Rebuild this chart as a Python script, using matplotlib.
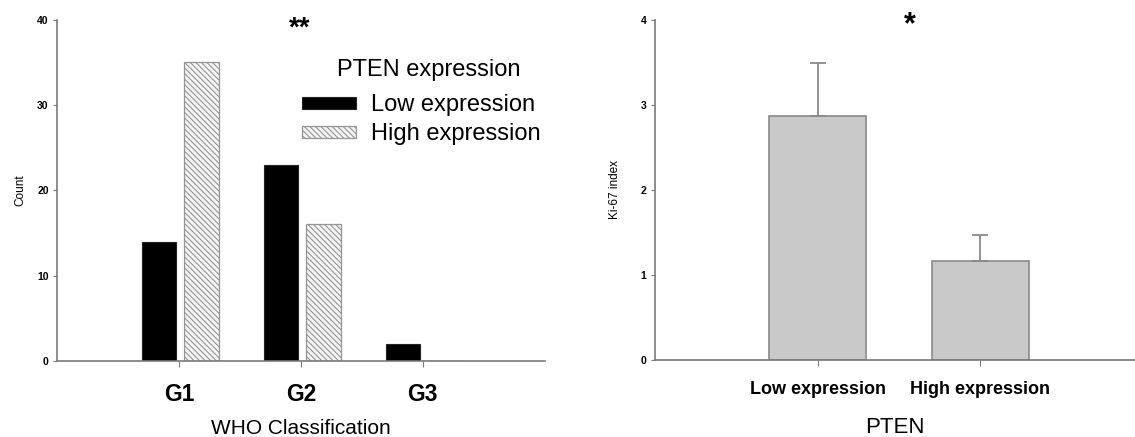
import matplotlib
matplotlib.use("Agg")
import matplotlib.pyplot as plt
import numpy as np

plt.rcParams['font.family'] = ['Liberation Sans', 'DejaVu Sans']

# left panel: WHO grade counts by PTEN expression
grades = ["G1", "G2", "G3"]
low_counts = [14, 23, 2]
high_counts = [35, 16, 0]

# right panel: Ki-67 index by PTEN expression
pten_groups = ["Low expression", "High expression"]
ki67_mean = [2.87, 1.17]
ki67_err = [0.62, 0.30]

axis_gray = "#7a7a7a"

fig = plt.figure(figsize=(11.35, 4.37), dpi=100)

# ---- left chart
ax1 = fig.add_axes([0.0502, 0.174, 0.4298, 0.781])
x = np.arange(1, len(grades) + 1)
ax1.bar(x - 0.165, low_counts, width=0.28, color="black", edgecolor="#222222",
        linewidth=0.8, label="Low expression")
plt.rcParams['hatch.linewidth'] = 0.8
ax1.bar(x + 0.185, high_counts, width=0.28, color="#f4f4f4", edgecolor="#959595",
        hatch="\\\\\\\\\\\\", linewidth=0.9, label="High expression")
ax1.set_xlim(0, 4)
ax1.set_ylim(0, 40)
ax1.set_yticks([0, 10, 20, 30, 40])
ax1.set_xticks(x)
ax1.set_xticklabels(grades, fontsize=16.5, fontweight="bold")
ax1.tick_params(axis="y", labelsize=7.5, length=3, color=axis_gray, pad=3)
for lab in ax1.get_yticklabels():
    lab.set_fontweight("bold")
ax1.tick_params(axis="x", length=4, color=axis_gray, pad=12)
ax1.set_ylabel("Count", fontsize=8.5, labelpad=8)
ax1.set_xlabel("WHO Classification", fontsize=15, labelpad=9)
for s in ["top", "right"]:
    ax1.spines[s].set_visible(False)
for s in ["left", "bottom"]:
    ax1.spines[s].set_color(axis_gray)
    ax1.spines[s].set_linewidth(1.2)
ax1.text(0.498, 0.975, "**", transform=ax1.transAxes, ha="center", va="center",
         fontsize=20, fontweight="bold")
# legend title drawn separately to get the wider gap above the entries
ax1.text(0.762, 0.852, "PTEN expression", transform=ax1.transAxes,
         ha="center", va="center", fontsize=17)
leg = ax1.legend(loc="upper right", bbox_to_anchor=(1.01, 0.809),
                 frameon=False, fontsize=17,
                 handlelength=2.3, handleheight=0.4, handletextpad=0.6,
                 labelspacing=0.3, borderaxespad=0)

# ---- right chart
ax2 = fig.add_axes([0.577, 0.176, 0.423, 0.779])
xr = np.arange(1, len(pten_groups) + 1)
ax2.bar(xr, ki67_mean, width=0.6, color="#c9c9c9", edgecolor="#8a8a8a", linewidth=1.2)
ax2.errorbar(xr, ki67_mean, yerr=[np.zeros(len(ki67_err)), ki67_err], fmt="none",
             ecolor="#8a8a8a", elinewidth=1.3, capsize=6, capthick=1.3)
ax2.set_xlim(0, 2.95)
ax2.set_ylim(0, 4)
ax2.set_yticks([0, 1, 2, 3, 4])
ax2.set_xticks(xr)
ax2.set_xticklabels(pten_groups, fontsize=13, fontweight="bold")
ax2.tick_params(axis="y", labelsize=7.5, length=3, color=axis_gray, pad=3)
for lab in ax2.get_yticklabels():
    lab.set_fontweight("bold")
ax2.tick_params(axis="x", length=4, color=axis_gray, pad=11)
ax2.set_ylabel("Ki-67 index", fontsize=8.5, labelpad=14)
ax2.set_xlabel("PTEN", fontsize=16, labelpad=14)
for s in ["top", "right"]:
    ax2.spines[s].set_visible(False)
for s in ["left", "bottom"]:
    ax2.spines[s].set_color(axis_gray)
    ax2.spines[s].set_linewidth(1.2)
ax2.text(0.532, 0.985, "*", transform=ax2.transAxes, ha="center", va="center",
         fontsize=22, fontweight="bold")

fig.savefig("out.png", dpi=100)
